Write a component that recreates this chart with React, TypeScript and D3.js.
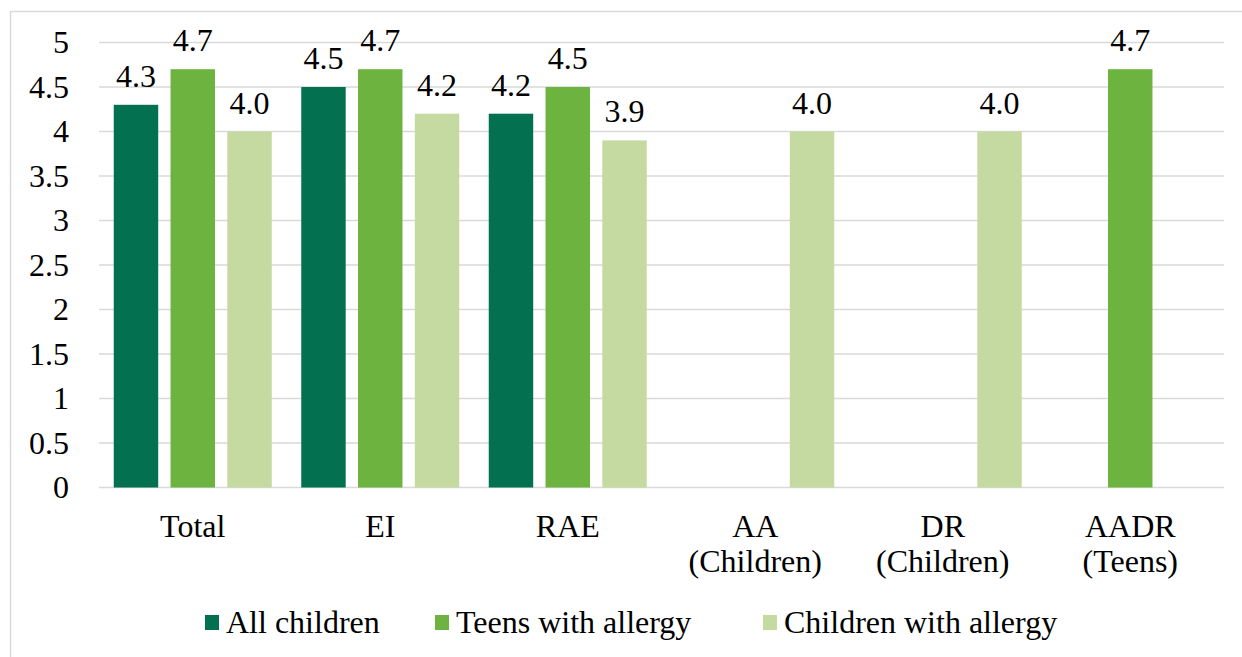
import { useEffect, useRef } from 'react'
import * as d3 from 'd3'

const categories = ['Total', 'EI', 'RAE', 'AA\n(Children)', 'DR\n(Children)', 'AADR\n(Teens)']
const seriesNames = ['All children', 'Teens with allergy', 'Children with allergy']
const allChildren: (number | null)[] = [4.3, 4.5, 4.2, null, null, null]
const teensWithAllergy: (number | null)[] = [4.7, 4.7, 4.5, null, null, 4.7]
const childrenWithAllergy: (number | null)[] = [4.0, 4.2, 3.9, 4.0, 4.0, null]
const yTicks = [0, 0.5, 1, 1.5, 2, 2.5, 3, 3.5, 4, 4.5, 5]
const colors = ['#037050', '#6DB33F', '#C5DAA0']

export default function App() {
  const svgRef = useRef<SVGSVGElement>(null)

  useEffect(() => {
    if (!svgRef.current) return
    const width = 1242
    const height = 657
    const font = '"Liberation Serif", "Times New Roman", serif'
    const fs = 32

    const svg = d3.select(svgRef.current)
    svg.selectAll('*').remove()

    // outer frame
    svg.append('rect')
      .attr('x', 10.5).attr('y', 11.5).attr('width', 1240).attr('height', 660)
      .attr('fill', 'white').attr('stroke', '#d9d9d9').attr('stroke-width', 1.5)

    const plot = { left: 99, right: 1224, top: 42.5, bottom: 487.5 }

    const y = d3.scaleLinear().domain([0, 5]).range([plot.bottom, plot.top])
    const x0 = d3.scaleBand<string>().domain(categories).range([plot.left, plot.right]).padding(0)
    const x1 = d3.scaleBand<string>().domain(seriesNames)
      .range([14.75, x0.bandwidth() - 14.75]).paddingInner(0.217).paddingOuter(0)

    // Grid
    svg.append('g').selectAll('line')
      .data(yTicks)
      .join('line')
      .attr('x1', plot.left).attr('x2', plot.right)
      .attr('y1', d => y(d)).attr('y2', d => y(d))
      .attr('stroke', '#d9d9d9').attr('stroke-width', 1.5)

    // Y tick labels
    svg.append('g').selectAll('text')
      .data(yTicks)
      .join('text')
      .attr('x', 69).attr('y', d => y(d) + 10.5)
      .attr('text-anchor', 'end')
      .attr('font-family', font).attr('font-size', fs).attr('fill', '#000')
      .text(d => `${d}`)

    const series = [allChildren, teensWithAllergy, childrenWithAllergy]
    const bars = series.flatMap((vals, si) =>
      vals.map((v, ci) => ({ cat: categories[ci], name: seriesNames[si], v, color: colors[si] }))
    ).filter(d => d.v !== null) as { cat: string; name: string; v: number; color: string }[]

    svg.append('g').selectAll('rect')
      .data(bars)
      .join('rect')
      .attr('x', d => (x0(d.cat) ?? 0) + (x1(d.name) ?? 0))
      .attr('y', d => y(d.v))
      .attr('width', x1.bandwidth())
      .attr('height', d => y(0) - y(d.v))
      .attr('fill', d => d.color)

    // data labels
    svg.append('g').selectAll('text')
      .data(bars)
      .join('text')
      .attr('x', d => (x0(d.cat) ?? 0) + (x1(d.name) ?? 0) + x1.bandwidth() / 2)
      .attr('y', d => y(d.v) - 18)
      .attr('text-anchor', 'middle')
      .attr('font-family', font).attr('font-size', fs).attr('fill', '#000')
      .text(d => d.v.toFixed(1))

    // category labels
    const catG = svg.append('g')
    categories.forEach(c => {
      const cx = (x0(c) ?? 0) + x0.bandwidth() / 2
      const t = catG.append('text')
        .attr('x', cx)
        .attr('y', 537)
        .attr('text-anchor', 'middle')
        .attr('font-family', font).attr('font-size', fs).attr('fill', '#000')
      c.split('\n').forEach((line, i) => {
        t.append('tspan')
          .attr('x', cx)
          .attr('dy', i === 0 ? 0 : 35)
          .text(line)
      })
    })

    // legend
    const legendX = [205, 435, 763]
    const lg = svg.append('g')
    seriesNames.forEach((name, i) => {
      lg.append('rect')
        .attr('x', legendX[i]).attr('y', 615).attr('width', 14).attr('height', 15)
        .attr('fill', colors[i])
      lg.append('text')
        .attr('x', legendX[i] + 21).attr('y', 633)
        .attr('font-family', font).attr('font-size', fs).attr('fill', '#000')
        .text(name)
    })

    svg.attr('width', width).attr('height', height)
  }, [])

  return (
    <svg ref={svgRef} width={1242} height={657}
      style={{ position: 'absolute', left: 0, top: 0, display: 'block' }} />
  )
}
